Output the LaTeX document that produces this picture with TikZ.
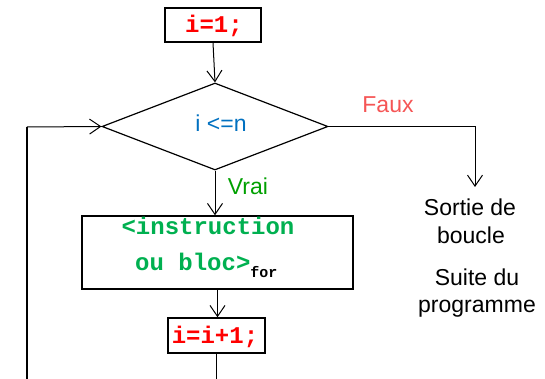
\documentclass[tikz,border=0pt]{standalone}
\usepackage{fontspec}
\setmainfont{Liberation Sans}
\newfontfamily\codefont{Liberation Mono}
\usetikzlibrary{shapes.geometric,arrows.meta}
\definecolor{codered}{RGB}{255,0,0}
\definecolor{codegreen}{RGB}{0,176,80}
\definecolor{condblue}{RGB}{0,112,192}
\definecolor{truegreen}{RGB}{0,160,0}
\definecolor{falsered}{RGB}{245,85,85}
\tikzset{
  box/.style={draw=black, line width=1.4pt, rectangle, inner sep=0pt},
  code/.style={font=\codefont\bfseries\fontsize{24}{24}\selectfont},
  lbl/.style={font=\fontsize{23}{23}\selectfont, inner sep=0pt, anchor=base},
  conn/.style={draw=black, line width=1pt, -{Straight Barb[length=11pt,width=15pt,line width=1pt]}},
  plain/.style={draw=black, line width=1.8pt},
}
\begin{document}
\begin{tikzpicture}[x=1pt,y=-1pt]
\useasboundingbox (0,0) rectangle (545,379);
% boxes
\node[box, minimum width=96pt, minimum height=34pt] (init) at (213,25) {};
\node[code, text=codered, inner sep=0pt, anchor=base] (inittxt) at (214,33) {i=1;};
\node[diamond, draw=black, line width=1.2pt, minimum width=226pt, minimum height=87pt, inner sep=0pt] (cond) at (215,126.5) {};
\node[lbl, text=condblue] (condtxt) at (221,132) {i <=n};
\node[box, minimum width=271pt, minimum height=73pt] (blk) at (217.5,252.5) {};
\node[code, text=codegreen, inner sep=0pt, anchor=base] (blk1) at (208,234) {<instruction};
\node[code, text=codegreen, inner sep=0pt, anchor=base west] (blk2) at (135,270) {ou bloc>\raisebox{-7pt}{\textcolor{black}{\fontsize{15}{15}\selectfont for}}};
\node[box, minimum width=97pt, minimum height=35pt] (inc) at (216.5,335.5) {};
\node[code, text=codered, inner sep=0pt, anchor=base] (inctxt) at (215,343) {i=i+1;};
% labels
\node[lbl, text=truegreen] (vrai) at (248,195) {Vrai};
\node[lbl, text=falsered] (faux) at (388,113) {Faux};
\node[lbl] (exit1) at (470,215) {Sortie de};
\node[lbl] (exit2) at (471,243) {boucle};
\node[lbl] (next1) at (477,285) {Suite du};
\node[lbl] (next2) at (477,312) {programme};
% coordinates
\coordinate (exitin) at (475,187);
\coordinate (loopbot) at (27,379);
\coordinate (loopcorner) at (27,127);
\coordinate (incbot) at (216.5,379);
% connectors
\draw[conn] (init.south) -- (cond.north);
\draw[conn] (cond.south) -- (cond.south |- blk.north);
\draw[conn] (blk.south) -- (blk.south |- inc.north);
\draw[plain] (inc.south) -- (incbot);
\draw[conn] (cond.east) -| (exitin);
\draw[plain] (loopbot) -- (loopcorner);
\draw[conn] (loopcorner) -- (cond.west);
\end{tikzpicture}
\end{document}
